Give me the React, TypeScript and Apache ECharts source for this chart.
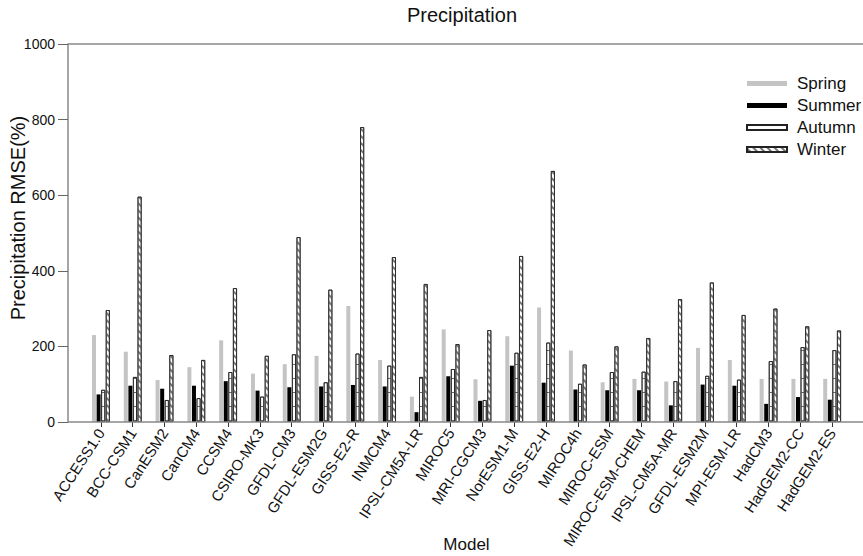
import React, { useEffect, useRef } from "react";
import * as echarts from "echarts";

const models = [
  "ACCESS1.0", "BCC-CSM1", "CanESM2", "CanCM4", "CCSM4", "CSIRO-MK3", "GFDL-CM3", "GFDL-ESM2G",
  "GISS-E2-R", "INMCM4", "IPSL-CM5A-LR", "MIROC5", "MRI-CGCM3", "NorESM1-M", "GISS-E2-H", "MIROC4h",
  "MIROC-ESM", "MIROC-ESM-CHEM", "IPSL-CM5A-MR", "GFDL-ESM2M", "MPI-ESM-LR", "HadCM3", "HadGEM2-CC", "HadGEM2-ES",
];
const spring = [230, 186, 111, 145, 216, 128, 153, 175, 307, 164, 67, 245, 113, 227, 303, 189, 105, 114, 107, 196, 164, 114, 114, 114];
const summer = [73, 96, 88, 96, 108, 83, 92, 94, 98, 94, 26, 121, 56, 149, 104, 86, 84, 84, 44, 99, 96, 48, 66, 59];
const autumn = [85, 119, 58, 63, 132, 67, 179, 105, 181, 149, 119, 140, 58, 183, 210, 101, 132, 133, 108, 122, 112, 161, 198, 190];
const winter = [296, 596, 177, 164, 354, 175, 489, 350, 780, 436, 365, 206, 243, 439, 664, 152, 200, 222, 325, 369, 283, 300, 253, 242];
const yTicks = [0, 200, 400, 600, 800, 1000];

const FONT = "'Liberation Sans', Arial, sans-serif";

export default function App() {
  const ref = useRef<HTMLDivElement>(null);
  useEffect(() => {
    if (!ref.current) return;
    const chart = echarts.init(ref.current, null, { renderer: "svg" });
    const W = 863, H = 556;
    const gridLeft = 85, gridRight = 15, gridTop = 44, gridBottom = 134;
    const axisX = 68;
    const baseY = H - gridBottom;
    chart.setOption({
      animation: false,
      backgroundColor: "#fff",
      textStyle: { fontFamily: FONT },
      title: {
        text: "Precipitation",
        left: 457,
        textAlign: "center",
        top: 0,
        textStyle: { fontFamily: FONT, fontSize: 20, fontWeight: 500, color: "#111" },
      },
      legend: {
        orient: "vertical",
        left: 741,
        top: 70,
        itemWidth: 40,
        itemHeight: 5,
        itemGap: 5,
        icon: "rect",
        textStyle: { fontFamily: FONT, fontSize: 17, color: "#111", padding: [0, 0, 0, 5] },
        data: ["Spring", "Summer", "Autumn", "Winter"],
      },
      grid: {
        left: gridLeft, right: gridRight, top: gridTop, bottom: gridBottom,
        containLabel: false, outerBoundsMode: "none",
      },
      xAxis: {
        type: "category",
        data: models,
        name: "Model",
        nameLocation: "middle",
        nameGap: 114,
        nameMoveOverlap: false,
        nameTextStyle: { fontFamily: FONT, fontSize: 17, color: "#111" },
        axisLine: { show: false },
        axisTick: { show: true, alignWithLabel: true, length: 5, lineStyle: { color: "#333" } },
        axisLabel: { rotate: 57, fontSize: 15, color: "#111", margin: 8, interval: 0, fontFamily: FONT },
      },
      yAxis: {
        type: "value",
        min: 0,
        max: 1000,
        interval: 200,
        offset: gridLeft - axisX,
        name: "Precipitation RMSE(%)",
        nameLocation: "middle",
        nameGap: 40,
        nameMoveOverlap: false,
        nameTextStyle: { fontFamily: FONT, fontSize: 20, color: "#111", padding: [0, 0, 0, 30] },
        axisLine: { show: true, lineStyle: { color: "#888", width: 1.5 } },
        axisTick: { show: true, length: 10, lineStyle: { color: "#666" } },
        axisLabel: {
          fontSize: 14, color: "#111", margin: 13, fontFamily: FONT,
          formatter: (v: number) => (yTicks.includes(v) ? String(v) : ""),
        },
        splitLine: { show: false },
      },
      graphic: [
        { type: "line", shape: { x1: axisX, y1: baseY, x2: W, y2: baseY }, style: { stroke: "#888", lineWidth: 1.5 }, z: 10 },
        { type: "line", shape: { x1: axisX, y1: gridTop, x2: W, y2: gridTop }, style: { stroke: "#888", lineWidth: 1.5 }, z: 10 },
      ],
      series: [
        {
          name: "Spring", type: "bar", data: spring, barWidth: 4, barGap: "15%",
          itemStyle: { color: "#c4c4c4" },
        },
        {
          name: "Summer", type: "bar", data: summer, barWidth: 4, barGap: "15%",
          itemStyle: { color: "#000" },
        },
        {
          name: "Autumn", type: "bar", data: autumn, barWidth: 4, barGap: "15%",
          itemStyle: {
            color: "#fff", borderColor: "#222", borderWidth: 0.8,
            decal: { symbol: "rect", color: "#666", dashArrayX: [1, 0], dashArrayY: [1, 13], rotation: 0 },
          },
        },
        {
          name: "Winter", type: "bar", data: winter, barWidth: 4, barGap: "15%",
          itemStyle: {
            color: "#fff", borderColor: "#222", borderWidth: 0.8,
            decal: { symbol: "rect", color: "#777", dashArrayX: [1, 0], dashArrayY: [1.2, 2.2], rotation: Math.PI / 4 },
          },
        },
      ],
    });
    return () => chart.dispose();
  }, []);
  return <div ref={ref} style={{ width: 863, height: 556, position: "absolute", left: 0, top: 0 }} />;
}
